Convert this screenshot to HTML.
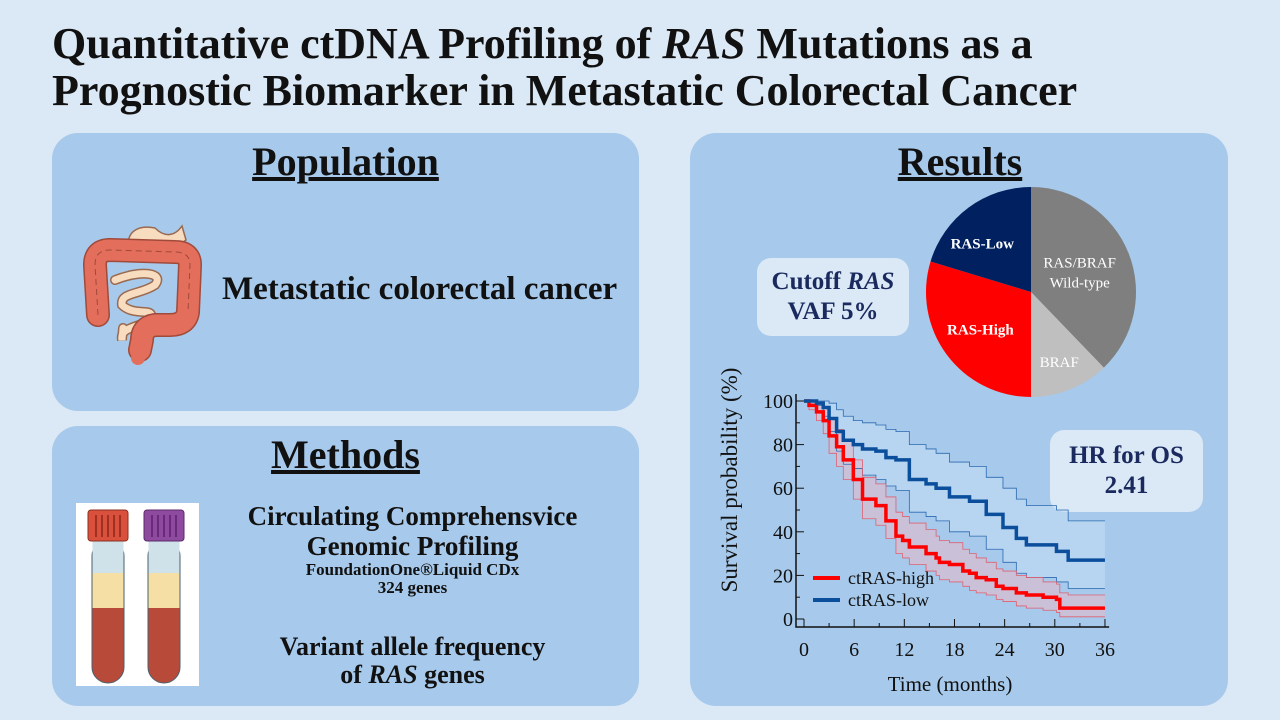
<!DOCTYPE html>
<html><head><meta charset="utf-8"><style>
body{margin:0;width:1280px;height:720px;background:#dbe8f5;font-family:"Liberation Serif",serif;overflow:hidden;position:relative}
.abs{position:absolute}
.panel{position:absolute;background:#a7c9eb;border-radius:26px}
h1{position:absolute;left:52px;top:20px;margin:0;font-size:44px;line-height:47px;font-weight:bold;color:#111;white-space:nowrap}
.hd{position:absolute;font-weight:bold;font-size:40px;text-decoration:underline;color:#111;text-align:center}
.box{position:absolute;background:#dbe8f6;border-radius:14px;color:#1a2a5e;font-weight:bold;text-align:center;font-size:25px;line-height:30px}
</style></head><body>
<h1>Quantitative ctDNA Profiling of <i>RAS</i> Mutations as a<br>Prognostic Biomarker in Metastatic Colorectal Cancer</h1>

<div class="panel" style="left:52px;top:133px;width:587px;height:278px">
 <div class="hd" style="left:0;width:587px;top:5px">Population</div>
 <div class="abs" style="left:170px;top:138px;font-size:33px;font-weight:bold;color:#111;white-space:nowrap">Metastatic colorectal cancer</div>
</div>
<svg class="abs" style="left:60px;top:200px" width="160" height="180">
 <path d="M68 45 C68 30 80 25 95 28 C105 38 115 36 122 26 L126 40 C110 52 85 50 68 45Z" fill="#f8dcc0" stroke="#9a6a50" stroke-width="1.5"/>
 <path d="M55 80 C80 70 105 72 95 85 C80 95 60 92 62 105 C75 118 100 105 88 122 C70 128 60 130 62 140 L63 128" fill="none" stroke="#9a6a50" stroke-width="10" stroke-linecap="round"/>
 <path d="M55 80 C80 70 105 72 95 85 C80 95 60 92 62 105 C75 118 100 105 88 122 C70 128 60 130 62 140 L63 128" fill="none" stroke="#f8dcc0" stroke-width="7" stroke-linecap="round"/>
 <path d="M38 115 L35 65 Q35 50 50 50 L115 52 Q130 52 130 65 L128 112 Q126 125 110 125 L95 125 Q82 127 82 140 L80 150" fill="none" stroke="#a04a3a" stroke-width="24" stroke-linejoin="round" stroke-linecap="round"/>
 <path d="M38 115 L35 65 Q35 50 50 50 L115 52 Q130 52 130 65 L128 112 Q126 125 110 125 L95 125 Q82 127 82 140 L80 150" fill="none" stroke="#e36e5c" stroke-width="21" stroke-linejoin="round" stroke-linecap="round"/>
 <path d="M38 115 L35 65 Q35 50 50 50 L115 52 Q130 52 130 65 L128 112" fill="none" stroke="#a04a3a" stroke-width="1" stroke-dasharray="6 4"/>
 <path d="M82 140 L78 158" stroke="#e36e5c" stroke-width="14" stroke-linecap="round"/>
</svg>

<div class="panel" style="left:52px;top:426px;width:587px;height:280px">
 <div class="hd" style="left:0;width:587px;top:5px">Methods</div>
 <div class="abs" style="left:227px;width:267px;top:75px;text-align:center;color:#111;font-weight:bold;white-space:nowrap">
  <div style="font-size:27px;line-height:30px;display:flex;flex-direction:column;align-items:center"><span>Circulating Comprehensvice</span><span>Genomic Profiling</span></div>
  <div style="font-size:17px;line-height:18px">FoundationOne®Liquid CDx<br>324 genes</div>
  <div style="font-size:26px;line-height:28px;margin-top:36px">Variant allele frequency<br>of <i>RAS</i> genes</div>
 </div>
</div>
<svg class="abs" style="left:76px;top:503px" width="123" height="183">
 <rect width="123" height="183" fill="#fff"/>
 <g>
  <rect x="16" y="37" width="32" height="143" rx="16" fill="#b84a3a" stroke="#4a6070"/>
  <rect x="16.5" y="37" width="31" height="35" fill="#cfe2ea"/>
  <rect x="16.5" y="70" width="31" height="35" fill="#f6dfa5"/>
  <rect x="12" y="7" width="40" height="31" rx="3" fill="#d9503d" stroke="#8a3020"/>
  <path d="M20 12V34M26 12V34M32 12V34M38 12V34M44 12V34" stroke="#a03020" stroke-width="2"/>
 </g>
 <g>
  <rect x="72" y="37" width="32" height="143" rx="16" fill="#b84a3a" stroke="#4a6070"/>
  <rect x="72.5" y="37" width="31" height="35" fill="#cfe2ea"/>
  <rect x="72.5" y="70" width="31" height="35" fill="#f6dfa5"/>
  <rect x="68" y="7" width="40" height="31" rx="3" fill="#8e4a9e" stroke="#5a2a6a"/>
  <path d="M76 12V34M82 12V34M88 12V34M94 12V34M100 12V34" stroke="#6a2a7a" stroke-width="2"/>
 </g>
</svg>

<div class="panel" style="left:690px;top:133px;width:538px;height:573px">
 <div class="hd" style="left:190px;top:5px;width:160px">Results</div>
</div>
<div class="box" style="left:757px;top:258px;width:152px;height:78px;padding-top:9px;box-sizing:border-box">Cutoff <i>RAS</i><br>VAF 5%</div>
<div class="box" style="left:1050px;top:430px;width:153px;height:82px;padding-top:11px;box-sizing:border-box">HR for OS<br>2.41</div>

<svg id="pie" class="abs" style="left:0;top:0" width="1280" height="720"></svg>
<svg id="km" class="abs" style="left:0;top:0" width="1280" height="720"></svg>

<script>
const pieLabels=["RAS/BRAF Wild-type","BRAF","RAS-High","RAS-Low"];
const pieValues=[37.8,12.2,29.7,20.3];
const pieColors=["#7f7f7f","#bfbfbf","#ff0000","#002060"];

const months=[0,0.6,1.5,2.3,3,3.9,4.7,5.9,7,8.6,9.8,11,11.8,12.6,14.6,15.8,16.2,17.4,19,19.8,20.6,21.8,23,23.8,25.4,26.6,28.6,30.2,30.6,31.6,36];
const highS=[100,98,95,91,84,79,73,64,55,52,45,38,36,33,30,28,26,25,22,21,19,18,15,14,12,11,10,9,5,5,5];
const highU=[100,100,99,97,92,87,82,73,65,62,56,49,47,44,41,38,36,35,32,30,28,26,23,22,20,19,17,16,12,11,11];
const highL=[100,96,91,85,76,70,64,55,46,43,37,30,28,25,22,20,18,17,15,13,12,11,9,8,6,5,4,3,1,1,1];
const lowS=[100,100,99,97,92,86,82,80,78,77,74,73,73,64,62,60,60,56,56,54,54,48,48,42,37,34,34,31,31,27,27];
const lowU=[100,100,100,100,99,96,93,91,90,89,87,86,86,80,78,76,76,72,72,70,70,65,65,60,55,52,52,50,50,45,45];
const lowL=[100,100,98,93,86,77,71,69,66,64,61,59,59,49,47,45,45,40,40,38,38,32,32,26,21,19,19,17,17,14,14];
const xTicks=[0,6,12,18,24,30,36];
const yTicks=[0,20,40,60,80,100];

const NS="http://www.w3.org/2000/svg";
function mk(p,t,a){const e=document.createElementNS(NS,t);for(const k in a)e.setAttribute(k,a[k]);p.appendChild(e);return e;}

const pie=document.getElementById('pie');
const cx=1031,cy=292,R=105;
let tot=pieValues.reduce((a,b)=>a+b,0),acc=0;
const labR=[0.5,0.72,0.6,0.62];
pieValues.forEach((v,i)=>{
 const a0=acc/tot*2*Math.PI;acc+=v;const a1=acc/tot*2*Math.PI;
 const x0=cx+R*Math.sin(a0),y0=cy-R*Math.cos(a0),x1=cx+R*Math.sin(a1),y1=cy-R*Math.cos(a1);
 const s=mk(pie,'path',{d:`M${cx},${cy}L${x0},${y0}A${R},${R} 0 ${a1-a0>Math.PI?1:0} 1 ${x1},${y1}Z`,fill:pieColors[i]});
 
 
 const am=(a0+a1)/2,rr=R*labR[i];
 const lx=cx+rr*Math.sin(am)-(i===3?10:0),ly=cy-rr*Math.cos(am)+(i===3?4:0);
 const parts=pieLabels[i]==="RAS/BRAF Wild-type"?["RAS/BRAF","Wild-type"]:[pieLabels[i]];
 parts.forEach((p,j)=>{
  const t=mk(pie,'text',{x:lx,y:ly+5+(j-(parts.length-1)/2)*20,'text-anchor':'middle','font-size':15,'font-weight':i>=2?'bold':'normal',fill:'#fff','font-family':'Liberation Serif, serif'});
  t.textContent=p;
  
  
 });
});

const km=document.getElementById('km');
const X=m=>804+m*8.36, Y=p=>619-p*2.18;
function stepPath(xs,ys){let d=`M${X(xs[0])},${Y(ys[0])}`;for(let i=1;i<xs.length;i++){d+=`H${X(xs[i])}V${Y(ys[i])}`;}return d;}
function band(xs,u,l){let d=stepPath(xs,u);d+=`H${X(36)}`;for(let i=xs.length-1;i>=1;i--){d+=`V${Y(l[i])}H${X(xs[i])}`;}d+=`V${Y(l[0])}Z`;return d;}
const b1=mk(km,'path',{d:band(months,lowU,lowL),fill:'#c2dcf5','fill-opacity':0.6,stroke:'none'});

const b2=mk(km,'path',{d:band(months,highU,highL),fill:'#e8b8c8','fill-opacity':0.55,stroke:'none'});

[[lowU,'#2a6ab0'],[lowL,'#2a6ab0'],[highU,'#e06070'],[highL,'#e06070']].forEach(([a,c])=>{
 const l=mk(km,'path',{d:stepPath(months,a)+`H${X(36)}`,fill:'none',stroke:c,'stroke-width':0.8});
 
});
const lh=mk(km,'path',{d:stepPath(months,highS)+`H${X(36)}`,fill:'none',stroke:'#ff0000','stroke-width':3.5});

const ll=mk(km,'path',{d:stepPath(months,lowS)+`H${X(36)}`,fill:'none',stroke:'#0b4f9c','stroke-width':3.5});

mk(km,'path',{d:`M796,394V627H${X(36.5)}`,fill:'none',stroke:'#111','stroke-width':1.5});
for(let m=0;m<=36;m+=3){mk(km,'line',{x1:X(m),x2:X(m),y1:627,y2:m%6?623:619,stroke:'#111'});}
for(let p=0;p<=100;p+=10){mk(km,'line',{x1:796,x2:796+(p%20?4:8),y1:Y(p),y2:Y(p),stroke:'#111'});}
xTicks.forEach(v=>{const t=mk(km,'text',{x:X(v),y:656,'text-anchor':'middle','font-size':20,fill:'#111','font-family':'Liberation Serif, serif'});t.textContent=v;});
yTicks.forEach(v=>{const t=mk(km,'text',{x:793,y:Y(v)+7,'text-anchor':'end','font-size':20,fill:'#111','font-family':'Liberation Serif, serif'});t.textContent=v;});
const xt=mk(km,'text',{x:950,y:691,'text-anchor':'middle','font-size':21,fill:'#111','font-family':'Liberation Serif, serif'});xt.textContent='Time (months)';

const yt=mk(km,'text',{x:0,y:0,'text-anchor':'middle','font-size':23,fill:'#111','font-family':'Liberation Serif, serif',transform:'translate(737,480) rotate(-90)'});yt.textContent='Survival probability (%)';

[['ctRAS-high','#ff0000',578],['ctRAS-low','#0b4f9c',600]].forEach(([n,c,y])=>{
 const g=mk(km,'g',{});
 
 mk(g,'line',{x1:813,x2:840,y1:y,y2:y,stroke:c,'stroke-width':4});
 const t=mk(g,'text',{x:848,y:y+6,'font-size':18,fill:'#111','font-family':'Liberation Serif, serif'});t.textContent=n;
});
</script>
</body></html>
